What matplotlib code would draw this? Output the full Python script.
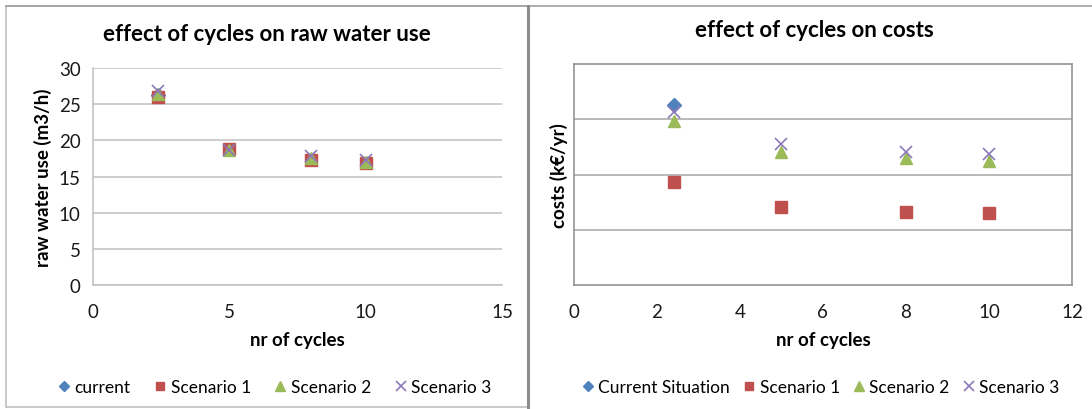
import matplotlib
matplotlib.use("Agg")
import matplotlib.pyplot as plt
from matplotlib.lines import Line2D
from matplotlib.patches import Rectangle

plt.rcParams['font.family'] = ['Lato', 'DejaVu Sans']

# ---- data -------------------------------------------------------------
cycles = [2.4, 5, 8, 10]
current_cycles = [2.4]

# raw water use (m3/h)
water_current = [26.3]
water_s1 = [26.0, 18.8, 17.3, 16.8]
water_s2 = [26.4, 18.7, 17.6, 17.0]
water_s3 = [26.8, 18.7, 17.9, 17.3]

# costs (k€/yr) - axis labels hidden in the original
cost_current = [326]
cost_s1 = [186, 142, 133, 130]
cost_s2 = [296, 240, 229, 225]
cost_s3 = [314, 255, 241, 237]

water_labels = ['current', 'Scenario 1', 'Scenario 2', 'Scenario 3']
cost_labels = ['Current Situation', 'Scenario 1', 'Scenario 2', 'Scenario 3']

BLUE = '#4F81BD'
RED = '#C0504D'
GREEN = '#9BBB59'
PURPLE = '#8C78B8'


def draw_series(ax, xcur, ycur, ys, labels):
    ax.plot(xcur, ycur, 'D', color=BLUE, ms=7, mec=BLUE, label=labels[0], zorder=3)
    ax.plot(cycles, ys[0], 's', color=RED, ms=8, mec=RED, label=labels[1], zorder=4)
    ax.plot(cycles, ys[1], '^', color=GREEN, ms=9, mec=GREEN, label=labels[2], zorder=5)
    ax.plot(cycles, ys[2], 'x', color=PURPLE, ms=9, mew=1.2, label=labels[3], zorder=6)


fig = plt.figure(figsize=(10.92, 4.10), dpi=100)

# ---- left chart -------------------------------------------------------
ax1 = fig.add_axes([0.0852, 0.3024, 0.3745, 0.5293])
draw_series(ax1, current_cycles, water_current, [water_s1, water_s2, water_s3], water_labels)
ax1.set_xlim(0, 15)
ax1.set_ylim(0, 30)
ax1.set_xticks([0, 5, 10, 15])
ax1.set_yticks(range(0, 31, 5))
ax1.grid(axis='y', color='#C0C0C0', lw=1.1)
ax1.set_axisbelow(True)
for s in ['top', 'right']:
    ax1.spines[s].set_visible(False)
for s in ['left', 'bottom']:
    ax1.spines[s].set_color('#C0C0C0')
    ax1.spines[s].set_linewidth(1.1)
ax1.tick_params(length=0, labelsize=13.5, colors='#1a1a1a')
ax1.tick_params(axis='x', pad=13)
ax1.tick_params(axis='y', pad=9)
ax1.set_title('effect of cycles on raw water use', fontsize=16, fontweight='bold',
              pad=20, x=0.425)
ax1.set_xlabel('nr of cycles', fontsize=13.5, fontweight='bold', labelpad=8)
ax1.set_ylabel('raw water use (m3/h)', fontsize=13.5, fontweight='bold', labelpad=5)
ax1.legend(loc='center', bbox_to_anchor=(0.252, 0.054), bbox_transform=fig.transFigure,
           ncol=4, frameon=False, fontsize=12.5, handlelength=0.6, handletextpad=0.3,
           columnspacing=1.4, markerscale=0.75)

# ---- right chart ------------------------------------------------------
ax2 = fig.add_axes([0.5256, 0.3024, 0.4560, 0.539])
draw_series(ax2, current_cycles, cost_current, [cost_s1, cost_s2, cost_s3], cost_labels)
ax2.set_xlim(0, 12)
ax2.set_ylim(0, 400)
ax2.set_xticks(range(0, 13, 2))
ax2.set_yticks([100, 200, 300])
ax2.set_yticklabels([])
ax2.grid(axis='y', color='#A6A6A6', lw=1.1)
ax2.set_axisbelow(True)
for s in ax2.spines.values():
    s.set_color('#8C8C8C')
    s.set_linewidth(1.1)
ax2.tick_params(length=0, labelsize=13.5, colors='#1a1a1a')
ax2.tick_params(axis='x', pad=13)
ax2.set_title('effect of cycles on costs', fontsize=16, fontweight='bold', pad=20, x=0.482)
ax2.set_xlabel('nr of cycles', fontsize=13.5, fontweight='bold', labelpad=8)
ax2.set_ylabel('costs (k€/yr)', fontsize=13.5, fontweight='bold', labelpad=1)
ax2.legend(loc='center', bbox_to_anchor=(0.752, 0.054), bbox_transform=fig.transFigure,
           ncol=4, frameon=False, fontsize=12.5, handlelength=0.6, handletextpad=0.3,
           columnspacing=0.8, markerscale=0.75)

# ---- panel frames -----------------------------------------------------
fig.add_artist(Rectangle((6 / 1092, 2 / 410), (528 - 6) / 1092, (403 - 2) / 410,
                         transform=fig.transFigure, fill=False, ec='#BFBFBF', lw=1.2))
fig.add_artist(Line2D([6 / 1092, 1], [1 - 7 / 410, 1 - 7 / 410],
                      transform=fig.transFigure, color='#A0A0A0', lw=1.2))
fig.add_artist(Line2D([528 / 1092, 528 / 1092], [0, 1 - 7 / 410],
                      transform=fig.transFigure, color='#8C8C8C', lw=2.2))

fig.savefig('out.png', dpi=100)
